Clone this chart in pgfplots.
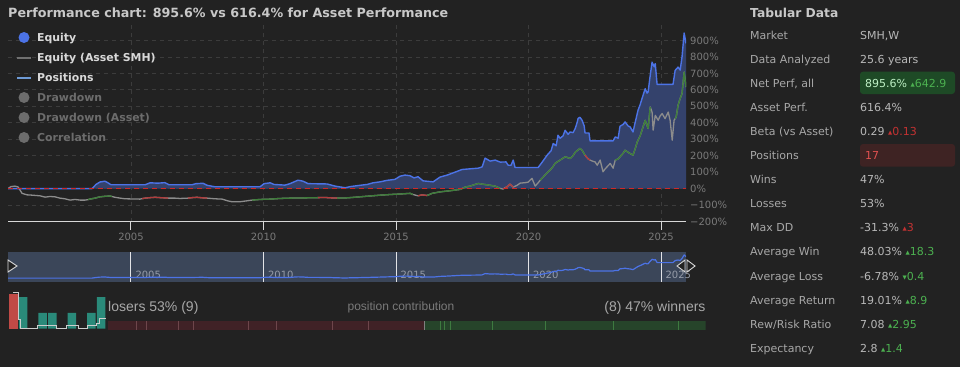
\documentclass[border=0pt]{standalone}
\usepackage{pgfplots}
\pgfplotsset{compat=1.18}
\usepackage{pgfplotstable}
\usepackage{fontspec}
\setmainfont{DejaVu Sans}
\newfontfamily\lib{Liberation Sans}

\definecolor{bg}{HTML}{222222}
\definecolor{titlec}{HTML}{C8C8C8}
\definecolor{legtext}{HTML}{D8D8D8}
\definecolor{legdim}{HTML}{6C6C6C}
\definecolor{eqblue}{HTML}{4C73E6}
\definecolor{eqfill}{HTML}{34426C}
\definecolor{posblue}{HTML}{6E9BD6}
\definecolor{assetgray}{HTML}{8C8C8C}
\definecolor{assetgreen}{HTML}{3E7E3A}
\definecolor{assetred}{HTML}{B23C3C}
\definecolor{gridc}{HTML}{3C3C3C}
\definecolor{zeroline}{HTML}{D02828}
\definecolor{tickc}{HTML}{7A7A7A}
\definecolor{axline}{HTML}{D8D8D8}
\definecolor{navbg}{HTML}{3B4659}
\definecolor{navtext}{HTML}{969CA8}
\definecolor{histred}{HTML}{C04A46}
\definecolor{histteal}{HTML}{2A8A7A}
\definecolor{stripred}{HTML}{402226}
\definecolor{stripredsep}{HTML}{6E464B}
\definecolor{stripgreen}{HTML}{26442A}
\definecolor{stripgreensep}{HTML}{3E7A40}
\definecolor{labc}{HTML}{A8A8A8}
\definecolor{valc}{HTML}{B8B8B8}
\definecolor{netbg}{HTML}{1E4A26}
\definecolor{nettext}{HTML}{BDEFC4}
\definecolor{upgreen}{HTML}{4CB050}
\definecolor{downred}{HTML}{C23232}
\definecolor{posbg}{HTML}{3E2323}
\definecolor{postext}{HTML}{E05050}

\newcommand{\titlefont}{\bfseries\fontsize{12.7bp}{15bp}\selectfont}
\newcommand{\legfont}{\bfseries\fontsize{10.9bp}{13bp}\selectfont}
\newcommand{\tabfont}{\fontsize{11bp}{13bp}\selectfont}
\newcommand{\tickfont}{\fontsize{10bp}{12bp}\selectfont}
\newcommand{\botfont}{\lib\fontsize{14bp}{16bp}\selectfont}
\newcommand{\smallbot}{\lib\fontsize{12bp}{14bp}\selectfont}
\newcommand{\up}{{\fontsize{5.5bp}{6bp}\selectfont\raisebox{1bp}{▲}}}
\newcommand{\dn}{{\fontsize{5.5bp}{6bp}\selectfont\raisebox{1bp}{▼}}}

\pgfplotstableread{
year val
2000.36 0
2003.53 0
2003.68 25
2003.83 40
2004.02 45
2004.13 35
2004.25 23
2005.53 23
2005.72 35
2006.02 33
2006.28 36
2006.44 23
2007.30 23
2007.45 30
2007.72 32
2007.87 20
2008.17 11
2009.87 11
2010.02 30
2010.25 35
2010.40 25
2010.81 21
2011.00 30
2011.30 51
2011.49 45
2011.68 30
2012.40 28
2012.70 15
2013.08 5
2013.27 12
2013.64 20
2013.91 25
2014.13 35
2014.40 41
2014.66 50
2014.96 56
2015.15 75
2015.34 82
2015.53 78
2015.68 65
2015.83 72
2016.02 47
2016.40 41
2016.66 70
2016.93 82
2017.23 100
2017.49 116
2017.79 120
2018.10 124
2018.25 132
2018.36 185
2018.55 167
2018.74 173
2018.93 161
2019.15 162
2019.23 142
2019.34 142
2019.42 173
2019.49 128
2020.36 128
2020.51 160
2020.70 203
2020.85 230
2020.93 274
2021.04 260
2021.11 324
2021.19 306
2021.30 320
2021.38 354
2021.49 330
2021.57 344
2021.68 340
2021.76 365
2021.83 400
2021.87 427
2021.94 433
2022.02 415
2022.10 380
2022.13 338
2022.28 338
2022.32 290
2023.19 290
2023.27 314
2023.38 306
2023.45 379
2023.57 390
2023.64 405
2023.76 380
2023.83 375
2023.94 344
2024.02 400
2024.13 476
2024.21 510
2024.28 547
2024.40 607
2024.47 580
2024.51 587
2024.59 688
2024.66 768
2024.74 740
2024.78 759
2024.85 633
2025.45 633
2025.53 718
2025.64 738
2025.72 720
2025.79 800
2025.87 945
2025.94 882
}\eqdata

\pgfplotstableread{
year val
2000.36 0
2000.47 12
2000.62 15
2000.74 10
2000.89 -29
2001.08 -38
2001.27 -40
2001.57 -44
2001.76 -52
2001.94 -48
2002.13 -50
2002.32 -58
2002.51 -62
2002.70 -70
2002.89 -66
2003.08 -70
2003.27 -70
2003.38 -67
2003.45 -64
2003.64 -58
2003.83 -50
2004.02 -47
2004.21 -45
2004.28 -48
2004.40 -53
2004.59 -58
2004.78 -62
2005.04 -63
2005.34 -64
2005.42 -61
2005.53 -58
2005.72 -55
2005.91 -53
2006.10 -55
2006.40 -58
2006.66 -58
2006.85 -60
2007.15 -58
2007.30 -55
2007.49 -53
2007.68 -56
2007.87 -58
2008.17 -62
2008.44 -64
2008.66 -75
2008.81 -80
2009.11 -80
2009.30 -76
2009.57 -70
2009.87 -66
2010.25 -64
2010.62 -60
2011.00 -58
2011.38 -57
2011.76 -56
2012.06 -55
2012.32 -54
2012.51 -56
2012.78 -58
2013.08 -57
2013.34 -54
2013.64 -50
2014.02 -45
2014.40 -40
2014.78 -36
2015.15 -33
2015.53 -29
2015.64 -36
2015.83 -44
2015.98 -38
2016.17 -42
2016.36 -29
2016.66 -20
2017.04 -13
2017.42 -5
2017.61 9
2017.79 15
2017.98 25
2018.10 31
2018.25 27
2018.47 22
2018.74 15
2018.93 1
2019.04 -3
2019.11 5
2019.19 11
2019.30 27
2019.42 9
2019.57 20
2019.68 33
2019.87 36
2019.98 39
2020.13 62
2020.25 15
2020.36 35
2020.44 51
2020.62 82
2020.74 102
2020.81 112
2020.93 135
2021.00 153
2021.11 165
2021.19 173
2021.38 193
2021.57 183
2021.68 200
2021.76 221
2021.87 235
2021.94 244
2022.02 233
2022.13 203
2022.25 180
2022.32 173
2022.44 165
2022.51 162
2022.59 142
2022.70 173
2022.81 102
2022.89 120
2022.96 132
2023.08 153
2023.19 124
2023.27 173
2023.38 180
2023.45 193
2023.57 215
2023.64 233
2023.76 220
2023.83 213
2023.94 203
2024.02 240
2024.10 284
2024.21 320
2024.28 355
2024.40 415
2024.51 365
2024.59 496
2024.66 465
2024.70 355
2024.78 445
2024.89 415
2024.96 440
2025.04 456
2025.15 425
2025.27 465
2025.34 415
2025.42 294
2025.49 415
2025.53 425
2025.57 435
2025.64 506
2025.72 547
2025.79 577
2025.87 708
2025.94 617
}\assetdata

\newcommand{\seg}[3]{\addplot[#1, line width=1.3bp, line join=round, restrict x to domain=#2:#3] table[x=year,y=val] {\assetdata};}

\begin{document}
\begin{tikzpicture}
\path[use as bounding box, fill=bg] (0,0) rectangle (960bp,-367bp);

% ---------------- main chart
\begin{axis}[
  at={(8bp,-24bp)}, anchor=north west,
  width=678bp, height=197.5bp, scale only axis,
  xmin=2000.36, xmax=2025.94, ymin=-200, ymax=1000,
  axis x line*=bottom, axis y line*=right,
  x axis line style={-, draw=axline, line width=1.2bp},
  y axis line style={draw=none},
  xtick={2005,2010,2015,2020,2025},
  xticklabels={2005,2010,2015,2020,2025},
  ytick={-200,-100,0,100,200,300,400,500,600,700,800,900},
  yticklabels={−200\%,−100\%,0\%,100\%,200\%,300\%,400\%,500\%,600\%,700\%,800\%,900\%},
  tick align=outside, major tick length=8bp,
  xtick style={draw=axline, line width=1bp},
  ytick style={draw=none},
  xticklabel style={text=tickc, font=\tickfont},
  yticklabel style={text=tickc, font=\tickfont, anchor=west, inner sep=0pt, xshift=-4bp},
  grid=major,
  major grid style={draw=gridc, dash pattern=on 4bp off 4bp, line width=0.8bp},
]
\addplot[fill=eqfill, draw=none] table[x=year,y=val] {\eqdata} \closedcycle;
\addplot[assetgray, line width=1.3bp, line join=round] table[x=year,y=val] {\assetdata};
\seg{assetgreen}{2003.375}{2004.285}
\seg{assetgreen}{2009.565}{2012.065}
\seg{assetgreen}{2012.775}{2015.645}
\seg{assetgreen}{2016.165}{2018.935}
\seg{assetgreen}{2020.435}{2022.135}
\seg{assetgreen}{2023.265}{2024.595}
\seg{assetgreen}{2025.525}{2025.95}
\seg{assetred}{2005.415}{2006.405}
\seg{assetred}{2007.145}{2007.875}
\seg{assetred}{2012.055}{2012.785}
\seg{assetred}{2015.825}{2016.175}
\seg{assetred}{2019.105}{2019.425}
\seg{assetred}{2022.125}{2022.325}
\addplot[eqblue, line width=1.4bp, line join=round] table[x=year,y=val] {\eqdata};
\addplot[zeroline, line width=1.2bp, dash pattern=on 5bp off 4bp] coordinates {(2000.36,0) (2025.94,0)};
\end{axis}

% ---------------- navigator
\begin{axis}[
  at={(8bp,-252bp)}, anchor=north west,
  width=678bp, height=29.7bp, scale only axis,
  xmin=2000.36, xmax=2025.94, ymin=-147, ymax=1066,
  axis line style={draw=none},
  axis background/.style={fill=navbg},
  xtick={2005,2010,2015,2020,2025},
  xticklabels={2005,2010,2015,2020,2025},
  ytick=\empty,
  major tick length=0pt,
  xmajorgrids, major grid style={draw=white!85!navbg, line width=1bp},
  xticklabel style={text=navtext, font=\tickfont, anchor=south west, xshift=1bp, yshift=0bp},
]
\addplot[eqblue, line width=1.2bp, line join=round] table[x=year,y=val] {\eqdata};
\end{axis}

% ---------------- histogram
\begin{axis}[
  at={(8.5bp,-291.45bp)}, anchor=north west,
  width=97.5bp, height=37.25bp, scale only axis,
  xmin=-0.5, xmax=9.5, ymin=0, ymax=2.35, hide axis,
]
\addplot[ybar, bar width=0.9, bar shift=0pt, fill=histred, draw=none] coordinates {(0,2.19)};
\addplot[ybar, bar width=0.88, bar shift=0pt, fill=histteal, draw=none] coordinates {(1,2) (3,1) (4,1) (6,1) (8,1) (9,2)};
\addplot[const plot, draw=white!80!black, line width=1bp] coordinates {(0.0,2.30) (0.505,0.55) (0.75,0.03) (2.45,0.23) (4.44,0.03) (5.47,0.23) (6.66,0.03) (7.58,0.23) (8.55,0.35) (8.88,0.65) (9.5,0.65)};
\end{axis}

% ---------------- position contribution strip
\begin{axis}[
  at={(108bp,-321bp)}, anchor=north west,
  width=597.7bp, height=8.7bp, scale only axis,
  xmin=0, xmax=597.7, ymin=0, ymax=1, hide axis,
]
\addplot[fill=stripred, draw=none] coordinates {(0,1) (316.2,1)} \closedcycle;
\addplot[fill=stripgreen, draw=none] coordinates {(316.2,1) (597.7,1)} \closedcycle;
\addplot[ycomb, draw=stripredsep, line width=0.9bp] coordinates {(28.4,1) (38,1) (70.1,1) (85.8,1) (140.9,1) (168.9,1) (224.9,1) (260.2,1)};
\addplot[ycomb, draw=gray, line width=0.9bp] coordinates {(316.2,1)};
\addplot[ycomb, draw=stripgreensep, line width=0.9bp] coordinates {(332.8,1) (336,1) (342.9,1) (384.7,1) (437.9,1) (505.8,1) (570.2,1)};
\end{axis}

\begin{scope}[x=1bp, y=-1bp]
% title
\node[anchor=base west, inner sep=0, text=titlec, font=\titlefont] at (8,17.3) {Performance chart: 895.6\% vs 616.4\% for Asset Performance};
% legend
\fill[eqblue] (24,37.5) circle (5.5);
\draw[draw=assetgray!80!black, line width=2bp] (17,57.5) -- (31,57.5);
\draw[draw=posblue, line width=2bp] (17,77.5) -- (31,77.5);
\fill[legdim] (24,97.5) circle (5.5);
\fill[legdim] (24,117.5) circle (5.5);
\fill[legdim] (24,137.5) circle (5.5);
\node[anchor=base west, inner sep=0, text=legtext, font=\legfont] at (37,41.5) {Equity};
\node[anchor=base west, inner sep=0, text=legtext, font=\legfont] at (37,61.5) {Equity (Asset SMH)};
\node[anchor=base west, inner sep=0, text=legtext, font=\legfont] at (37,81.5) {Positions};
\node[anchor=base west, inner sep=0, text=legdim, font=\legfont] at (37,101.5) {Drawdown};
\node[anchor=base west, inner sep=0, text=legdim, font=\legfont] at (37,121.5) {Drawdown (Asset)};
\node[anchor=base west, inner sep=0, text=legdim, font=\legfont] at (37,141.5) {Correlation};
% navigator handles
\filldraw[fill=bg, draw=white!85!black, line width=0.9bp] (8,260) -- (17,266) -- (8,272) -- cycle;
\filldraw[fill=bg, draw=white!85!black, line width=0.9bp] (685,260) -- (677,266) -- (685,272) -- cycle;
\filldraw[fill=bg, draw=white!85!black, line width=0.9bp] (687,260) -- (695,266) -- (687,272) -- cycle;
% bottom texts
\node[anchor=base west, inner sep=0, text=labc, font=\botfont] at (108,311.5) {losers 53\% (9)};
\node[anchor=base, inner sep=0, text=tickc, font=\smallbot] at (401,310.5) {position contribution};
\node[anchor=base east, inner sep=0, text=labc, font=\botfont] at (705.7,311.5) {(8) 47\% winners};
% table
\node[anchor=base west, inner sep=0, text=titlec, font=\bfseries\fontsize{12.3bp}{14bp}\selectfont] at (750,17) {Tabular Data};
\fill[netbg, rounded corners=3bp] (860,71.7) rectangle (955,94);
\fill[posbg, rounded corners=3bp] (860,144) rectangle (955,166.7);
\begin{scope}[every node/.style={anchor=base west, inner sep=0, font=\tabfont}]
\node[text=labc] at (750,39) {Market};
\node[text=valc] at (860,39) {SMH,W};
\node[text=labc] at (750,63.1) {Data Analyzed};
\node[text=valc] at (860,63.1) {25.6 years};
\node[text=labc] at (750,87.2) {Net Perf, all};
\node[text=nettext] at (865,87.2) {895.6\% \textcolor{upgreen}{\up642.9}};
\node[text=labc] at (750,111.3) {Asset Perf.};
\node[text=valc] at (860,111.3) {616.4\%};
\node[text=labc] at (750,135.4) {Beta (vs Asset)};
\node[text=valc] at (860,135.4) {0.29 \textcolor{downred}{\up0.13}};
\node[text=labc] at (750,159.5) {Positions};
\node[text=postext] at (865,159.5) {17};
\node[text=labc] at (750,183.6) {Wins};
\node[text=valc] at (860,183.6) {47\%};
\node[text=labc] at (750,207.7) {Losses};
\node[text=valc] at (860,207.7) {53\%};
\node[text=labc] at (750,231.8) {Max DD};
\node[text=valc] at (860,231.8) {-31.3\% \textcolor{downred}{\up3}};
\node[text=labc] at (750,255.9) {Average Win};
\node[text=valc] at (860,255.9) {48.03\% \textcolor{upgreen}{\up18.3}};
\node[text=labc] at (750,280) {Average Loss};
\node[text=valc] at (860,280) {-6.78\% \textcolor{upgreen}{\dn0.4}};
\node[text=labc] at (750,304.1) {Average Return};
\node[text=valc] at (860,304.1) {19.01\% \textcolor{upgreen}{\up8.9}};
\node[text=labc] at (750,328.2) {Rew/Risk Ratio};
\node[text=valc] at (860,328.2) {7.08 \textcolor{upgreen}{\up2.95}};
\node[text=labc] at (750,352.3) {Expectancy};
\node[text=valc] at (860,352.3) {2.8 \textcolor{upgreen}{\up1.4}};
\end{scope}
\end{scope}
\end{tikzpicture}
\end{document}
